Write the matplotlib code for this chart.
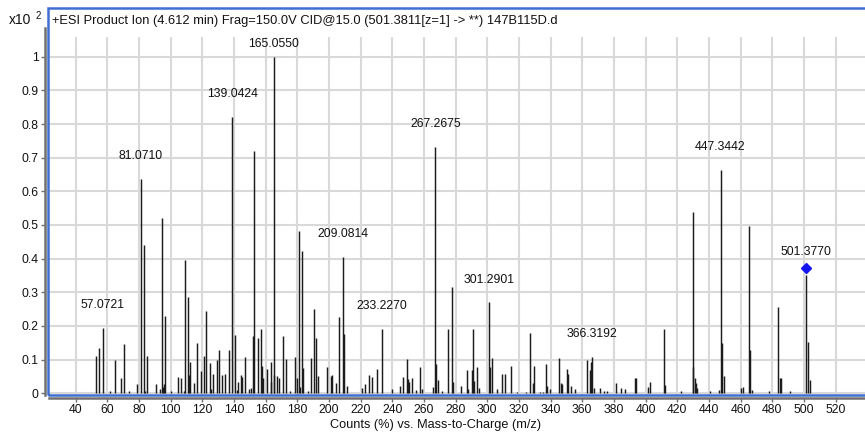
import matplotlib
matplotlib.use("Agg")
import matplotlib.pyplot as plt
from matplotlib.patches import Rectangle
import numpy as np

plt.rcParams['font.family'] = ['Liberation Sans', 'DejaVu Sans']

# Product-ion spectrum: m/z and relative abundance (x10^2 counts)
mz = [
    52.6, 54.9, 57.0721, 61.5, 65.0, 68.6, 70.7, 73.7, 78.7, 81.0710, 83.0, 83.7, 85.2,
    90.9, 93.3, 94.5, 95.4, 96.0, 96.6, 100.2, 104.6, 106.7, 108.4, 108.8, 110.9,
    111.8, 112.4, 114.5, 116.8, 119.2, 121.3, 122.5, 124.8, 125.5, 126.9, 129.1,
    130.5, 132.6, 134.5, 137.1, 139.0424, 140.4, 141.7, 142.7, 144.2, 144.8, 147.2,
    149.5, 150.7, 152.2, 152.8, 154.9, 157.1, 157.7, 158.5, 160.6, 163.2, 163.6,
    165.0550, 165.5, 167.0, 168.6, 170.7, 173.1, 175.2, 178.5, 180.0, 181.1, 181.7,
    183.0, 183.8, 186.5, 188.6, 190.7, 191.8, 193.3, 199.0, 201.1, 201.9, 204.6,
    206.5, 209.0814, 209.7, 211.2, 221.1, 222.5, 225.1, 227.0, 230.3, 233.2270,
    239.6, 244.9, 247.0, 249.1, 249.9, 250.8, 252.2, 255.0, 257.3, 258.8, 265.9,
    267.2675, 267.8, 268.7, 271.2, 275.2, 277.5, 278.1, 283.2, 287.0, 287.6, 290.4,
    291.0, 291.8, 293.3, 294.5, 301.2901, 301.9, 303.1, 306.3, 309.0, 311.2, 314.8,
    318.5, 324.5, 327.0, 328.7, 329.3, 333.3, 335.5, 337.2, 338.0, 339.3, 345.2,
    346.5, 347.1, 350.3, 351.1, 353.0, 355.6, 363.2, 364.7, 365.5, 366.3192, 367.6,
    371.0, 373.5, 375.8, 381.3, 384.2, 386.8, 393.1, 394.0, 401.6, 402.6, 411.7,
    412.3, 422.4, 429.8, 430.2, 431.0, 431.9, 432.7, 440.5, 446.2, 447.3442, 448.1,
    449.6, 460.3, 461.8, 465.4, 466.2, 467.1, 477.8, 483.5, 484.6, 485.8, 491.5,
    501.3770, 502.4, 503.7,
]
abundance = [
    0.111, 0.135, 0.194, 0.008, 0.100, 0.045, 0.146, 0.007, 0.027, 0.637, 0.440, 0.007, 0.111,
    0.027, 0.013, 0.520, 0.020, 0.028, 0.231, 0.007, 0.049, 0.045, 0.008, 0.396, 0.286,
    0.055, 0.093, 0.031, 0.150, 0.065, 0.112, 0.243, 0.089, 0.014, 0.058, 0.100,
    0.130, 0.055, 0.058, 0.130, 0.821, 0.174, 0.011, 0.034, 0.055, 0.049, 0.108,
    0.013, 0.017, 0.171, 0.721, 0.164, 0.190, 0.082, 0.045, 0.072, 0.092, 0.035,
    1.000, 0.055, 0.050, 0.045, 0.171, 0.102, 0.007, 0.107, 0.045, 0.482, 0.018,
    0.423, 0.075, 0.007, 0.104, 0.249, 0.164, 0.052, 0.078, 0.052, 0.055, 0.030,
    0.228, 0.405, 0.176, 0.023, 0.017, 0.027, 0.055, 0.048, 0.072, 0.191,
    0.013, 0.023, 0.048, 0.102, 0.043, 0.035, 0.045, 0.010, 0.078, 0.013, 0.020,
    0.732, 0.088, 0.040, 0.007, 0.191, 0.316, 0.033, 0.022, 0.070, 0.012, 0.068,
    0.191, 0.037, 0.078, 0.015, 0.270, 0.078, 0.104, 0.012, 0.058, 0.058, 0.082,
    0.005, 0.005, 0.180, 0.030, 0.082, 0.005, 0.005, 0.088, 0.022, 0.012, 0.104,
    0.030, 0.027, 0.072, 0.058, 0.022, 0.012, 0.100, 0.068, 0.092, 0.107, 0.017,
    0.017, 0.007, 0.007, 0.030, 0.017, 0.012, 0.045, 0.045, 0.020, 0.033, 0.191,
    0.025, 0.007, 0.539, 0.078, 0.045, 0.032, 0.015, 0.007, 0.010, 0.663, 0.149,
    0.052, 0.017, 0.020, 0.497, 0.129, 0.010, 0.007, 0.256, 0.045, 0.045, 0.007,
    0.352, 0.152, 0.040,
]

# Peaks annotated with their m/z
labelled_mz = [57.0721, 81.0710, 139.0424, 165.0550, 209.0814, 233.2270,
               267.2675, 301.2901, 366.3192, 447.3442, 501.3770]

# Precursor ion marker
precursor_mz = 501.3770
precursor_level = 0.371

title = "+ESI Product Ion (4.612 min) Frag=150.0V CID@15.0 (501.3811[z=1] -> **) 147B115D.d"
xlabel = "Counts (%) vs. Mass-to-Charge (m/z)"
xticks = list(range(40, 521, 20))
yticks = [0, 0.1, 0.2, 0.3, 0.4, 0.5, 0.6, 0.7, 0.8, 0.9, 1.0]
ytick_labels = ["0", "0.1", "0.2", "0.3", "0.4", "0.5", "0.6", "0.7", "0.8", "0.9", "1"]

W, H = 865, 436
fig = plt.figure(figsize=(W / 100, H / 100), dpi=100)

left, right, top, bottom = 48, 865, 8, 394.5
ax = fig.add_axes([left / W, 1 - bottom / H, (right - left) / W, (bottom - top) / H])
XMIN, XMAX = 22.5, 538.6
YMIN, YMAX = -0.0036, 1.1447
ax.set_xlim(XMIN, XMAX)
ax.set_ylim(YMIN, YMAX)

# light grid: horizontal lines span the width, vertical ones stop below the header
grid_col = "#d9d9d9"
for yv in yticks:
    ax.axhline(yv, color=grid_col, lw=1.5, zorder=1)
for xv in xticks:
    ax.plot([xv, xv], [YMIN, 1.06], color=grid_col, lw=1.5, zorder=1,
            solid_capstyle="butt")

ax.vlines(mz, 0, abundance, colors="#1c1c1c", lw=1.05, zorder=2)

ab_lookup = dict(zip(mz, abundance))
for m in labelled_mz:
    ypos = min(ab_lookup[m] + 0.05, 1.02)
    ax.text(m, ypos, f"{m:.4f}", ha="center", va="bottom", fontsize=8.8,
            color="#111111", zorder=4)

ax.plot([precursor_mz], [precursor_level], marker="D", markersize=5.5,
        color="#1414f0", markeredgecolor="#1414f0", linestyle="none", zorder=5)

ax.text(4 / (right - left), 1 - 13 / (bottom - top), title, transform=ax.transAxes,
        ha="left", va="center", fontsize=9.3, color="#111111")

# axis lines drawn just outside the highlighted frame
spine_col = "#707070"
for side in ("top", "right"):
    ax.spines[side].set_visible(False)
ax.spines["left"].set_position(("outward", 2.2))
ax.spines["bottom"].set_position(("outward", 2.6))
ax.spines["left"].set_bounds(YMIN, 1.085)
ax.spines["bottom"].set_bounds(23.0, XMAX)
for side in ("left", "bottom"):
    ax.spines[side].set_color(spine_col)
    ax.spines[side].set_linewidth(1.8)

ax.set_xticks(xticks)
ax.set_xticklabels([str(t) for t in xticks])
ax.set_yticks(yticks)
ax.set_yticklabels(ytick_labels)
ax.tick_params(axis="both", direction="out", length=3, width=1, color=spine_col,
               labelsize=8.8, labelcolor="#111111", pad=1.5)

# highlighted panel frame
frame = Rectangle((0, 0), 1.2, 1, transform=ax.transAxes, fill=False,
                  edgecolor="#3f6fd1", lw=1.8, clip_on=False, zorder=6)
ax.add_patch(frame)

fig.text(436 / W, 1 - 425 / H, xlabel, ha="center", va="center", fontsize=9.2,
         color="#111111")
fig.text(9 / W, 1 - 20 / H, "x10", ha="left", va="center", fontsize=10, color="#111111")
fig.text(36 / W, 1 - 16 / H, "2", ha="left", va="center", fontsize=7, color="#111111")

fig.savefig("out.png", dpi=100)
